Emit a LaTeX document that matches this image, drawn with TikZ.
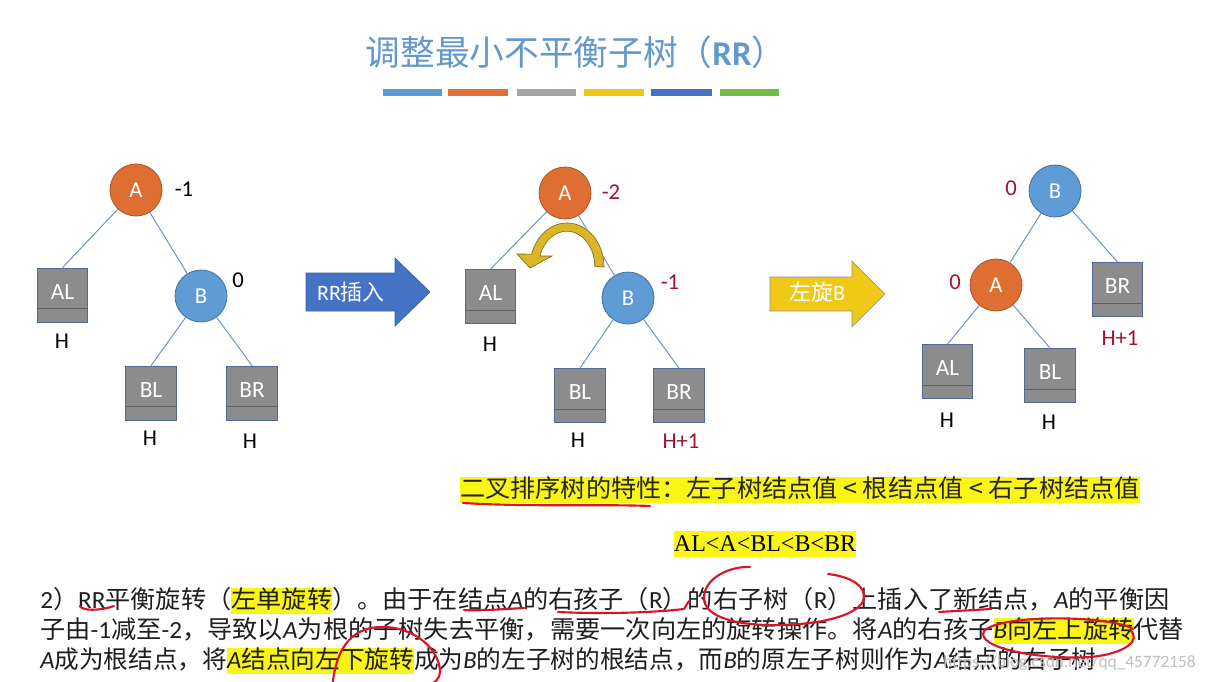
\documentclass[tikz,border=0pt]{standalone}
\usepackage{fontspec}
\setmainfont{Carlito}
\newfontfamily\cjk{Noto Sans CJK SC}
\newfontfamily\carl{Carlito}
\newfontfamily\tms{Liberation Serif}
\usetikzlibrary{calc}
\definecolor{titleblue}{RGB}{98,152,204}
\definecolor{barA}{RGB}{91,155,213}
\definecolor{barB}{RGB}{223,112,55}
\definecolor{barC}{RGB}{165,165,165}
\definecolor{barD}{RGB}{245,196,25}
\definecolor{barE}{RGB}{68,114,196}
\definecolor{barF}{RGB}{112,190,72}
\definecolor{orangeA}{RGB}{222,110,50}
\definecolor{orangeB}{RGB}{170,85,40}
\definecolor{blueA}{RGB}{95,155,213}
\definecolor{blueB}{RGB}{65,113,156}
\definecolor{boxgray}{RGB}{140,140,140}
\definecolor{boxedge}{RGB}{80,105,150}
\definecolor{sepgray}{RGB}{95,95,95}
\definecolor{edgeblue}{RGB}{110,150,195}
\definecolor{darkred}{RGB}{160,20,50}
\definecolor{arrowblue}{RGB}{68,114,196}
\definecolor{arrowblueB}{RGB}{55,95,165}
\definecolor{arrowyellow}{RGB}{240,200,22}
\definecolor{arrowyellowB}{RGB}{140,145,160}
\definecolor{gold}{RGB}{218,182,38}
\definecolor{goldB}{RGB}{130,110,40}
\definecolor{hlyellow}{RGB}{250,245,20}
\definecolor{redink}{RGB}{220,20,40}
\newcommand\hlt[1]{{\setlength{\fboxsep}{0pt}\colorbox{hlyellow}{\rule[-0.22em]{0pt}{1.08em}#1}}}
\newcommand\itl[1]{{\carl\itshape #1}}
\newcommand\lat[1]{{\carl #1}}
\begin{document}
\begin{tikzpicture}[x=0.75pt,y=-0.75pt,
  every node/.style={inner sep=0pt},
  anode/.style={circle, minimum size=39pt, fill=orangeA, draw=orangeB, line width=0.6pt, text=white, font=\fontsize{17}{20}\selectfont},
  bnode/.style={circle, minimum size=39pt, fill=blueA, draw=blueB, line width=0.6pt, text=white, font=\fontsize{17}{20}\selectfont},
  sub/.style={rectangle, minimum width=38pt, minimum height=40.5pt, fill=boxgray, draw=boxedge, line width=0.6pt, text=white, font=\fontsize{17.5}{20}\selectfont},
  sepline/.style={draw=sepgray, line width=0.6pt},
  edge/.style={draw=edgeblue, line width=0.75pt},
  bf/.style={font=\fontsize{17}{20}\selectfont, text=black},
  bfr/.style={font=\fontsize{17}{20}\selectfont, text=darkred},
  para/.style={anchor=west, font=\cjk\fontsize{18.5}{22}\selectfont, text=black!88},
  ink/.style={draw=redink, line width=1.6pt, line cap=round, line join=round}]

\path[use as bounding box, fill=white] (0,0) rectangle (1205,681);

% title
\node[text=titleblue, font=\fontsize{26}{30}\selectfont] (title) at (576,52) {{\cjk 调整最小不平衡子树（}{\bfseries RR}{\cjk ）}};
\fill[barA] (383,89) rectangle (442,96);
\fill[barB] (448,89) rectangle (508,96);
\fill[barC] (517,89) rectangle (576,96);
\fill[barD] (584,89) rectangle (644,96);
\fill[barE] (651,89) rectangle (712,96);
\fill[barF] (720,89) rectangle (779,96);

% ---------- tree 1 ----------
\node[anode] (A1) at (136,190) {A};
\node[bnode] (B1) at (201,296) {B};
\node[sub] (AL1) at (62.5,295) {\raisebox{5pt}{AL}};
\node[sub] (BL1) at (151,393) {\raisebox{5pt}{BL}};
\node[sub] (BR1) at (252,393) {\raisebox{5pt}{BR}};
\draw[edge] (A1) -- (AL1.north);
\draw[edge] (A1) -- (B1);
\draw[edge] (B1) -- (BL1.north);
\draw[edge] (B1) -- (BR1.north);
\node[bf] (bA1) at (184,189) {-1};
\node[bf] (bB1) at (238,280) {0};
\node[bf] (hAL1) at (62,341) {H};
\node[bf] (hBL1) at (150,438) {H};
\node[bf] (hBR1) at (250,441) {H};

% arrow 1
\fill[arrowblue, draw=arrowblueB, line width=0.5pt] (306,273) -- (395,273) -- (395,258) -- (430,292) -- (395,326) -- (395,311) -- (306,311) -- cycle;
\node[text=white, font=\fontsize{16.5}{20}\selectfont] (ins) at (351,292) {RR{\cjk 插入}};

% ---------- tree 2 ----------
\node[anode] (A2) at (565,193) {A};
\node[bnode] (B2) at (628,298) {B};
\node[sub] (AL2) at (490.5,296.5) {\raisebox{5pt}{AL}};
\node[sub] (BL2) at (580,395.5) {\raisebox{5pt}{BL}};
\node[sub] (BR2) at (679,395.5) {\raisebox{5pt}{BR}};
\draw[edge] (A2) -- (AL2.north);
\draw[edge] (A2) -- (B2);
\draw[edge] (B2) -- (BL2.north);
\draw[edge] (B2) -- (BR2.north);
\node[bfr] (bA2) at (611,192) {-2};
\node[bfr] (bB2) at (670,282) {-1};
\node[bf] (hAL2) at (490,344) {H};
\node[bf] (hBL2) at (578,440) {H};
\node[bfr] (hBR2) at (681,441) {H+1};
% curved rotation arrow
\filldraw[fill=gold, draw=goldB, line width=0.5pt]
  (604,267) arc[start angle=0, end angle=-163, x radius=37, y radius=44]
  -- (517,254) -- (530,268) -- (552,256) -- (540,256)
  arc[start angle=-163, end angle=0, x radius=28, y radius=35] -- cycle;

% arrow 2
\fill[arrowyellow, draw=arrowyellowB, line width=0.5pt] (770,277) -- (852,277) -- (852,261) -- (885,294) -- (852,327) -- (852,311) -- (770,311) -- cycle;
\node[text=white, font=\fontsize{16.5}{20}\selectfont] (rot) at (817,292) {{\cjk 左旋}B};

% ---------- tree 3 ----------
\node[bnode] (B3) at (1055,191) {B};
\node[anode] (A3) at (996,285) {A};
\node[sub] (BR3) at (1117.5,289.5) {\raisebox{5pt}{BR}};
\node[sub] (AL3) at (947.5,371.5) {\raisebox{5pt}{AL}};
\node[sub] (BL3) at (1050,375.5) {\raisebox{5pt}{BL}};
\draw[edge] (B3) -- (A3);
\draw[edge] (B3) -- (BR3.north);
\draw[edge] (A3) -- (AL3.north);
\draw[edge] (A3) -- (BL3.north);
\node[bfr] (bB3) at (1011,188) {0};
\node[bfr] (bA3) at (955,282) {0};
\node[bfr] (hBR3) at (1120,338) {H+1};
\node[bf] (hAL3) at (947,420) {H};
\node[bf] (hBL3) at (1049,422) {H};

% separators inside subtree boxes
\foreach \n in {AL1,BL1,BR1,AL2,BL2,BR2,AL3,BL3,BR3}
  \draw[sepline] ($(\n.south west)+(0,-14)$) -- ($(\n.south east)+(0,-14)$);

% ---------- text ----------
\node[anchor=west, font=\cjk\fontsize{18.5}{22}\selectfont, text=black!85] (prop) at (460,490)
  {\scalebox{1.02}[1]{\hlt{二叉排序树的特性：左子树结点值 < 根结点值 < 右子树结点值}}};
\node[font=\tms\fontsize{18}{22}\selectfont, text=black] (ineq) at (765,544)
  {\hlt{AL<A<BL<B<BR}};

\node[para] (l1) at (40,601) {\scalebox{1.021}[1]{\lat{2}）\lat{RR}平衡旋转（\hlt{左单旋转}）。由于在结点\itl{A}的右孩子（\lat{R}）的右子树（\lat{R}）上插入了新结点，\itl{A}的平衡因}};
\node[para] (l2) at (40,631) {\scalebox{1.023}[1]{子由\lat{-1}减至\lat{-2}，导致以\itl{A}为根的子树失去平衡，需要一次向左的旋转操作。将\itl{A}的右孩子\hlt{\itl{B}向左上旋转}代替}};
\node[para] (l3) at (40,661) {\itl{A}成为根结点，将\hlt{\itl{A}结点向左下旋转}成为\itl{B}的左子树的根结点，而\itl{B}的原左子树则作为\itl{A}结点的右子树};

\node[anchor=east, text=black!25, font=\fontsize{13}{15}\selectfont] (wm) at (1196,663) {https://blog.csdn.net/qq\_45772158};

% ---------- red ink annotations ----------
\draw[ink] (463,503) .. controls (530,507) and (600,504) .. (650,506);
\draw[ink] (80,606) .. controls (82,611) and (100,611) .. (114,606);
\draw[ink] (464,610) .. controls (480,611) and (505,609) .. (524,608);
\draw[ink] (558,612) .. controls (600,614) and (650,613) .. (684,609) -- (689,601);
\draw[ink] (750,567) .. controls (730,566) and (704,578) .. (704,598) .. controls (704,618) and (740,626) .. (780,625) .. controls (830,624) and (866,612) .. (864,595) .. controls (862,582) and (845,576) .. (828,574);
\draw[ink] (939,612) .. controls (955,611) and (975,610) .. (991,609);
\draw[ink] (1133,629) .. controls (1110,615) and (1000,614) .. (984,631) .. controls (975,648) and (1040,660) .. (1090,657) .. controls (1125,654) and (1142,640) .. (1130,630);
\draw[ink] (332,690) .. controls (335,650) and (350,628) .. (380,627) .. controls (415,626) and (440,650) .. (440,672) .. controls (440,685) and (420,690) .. (395,688);
\end{tikzpicture}
\end{document}
